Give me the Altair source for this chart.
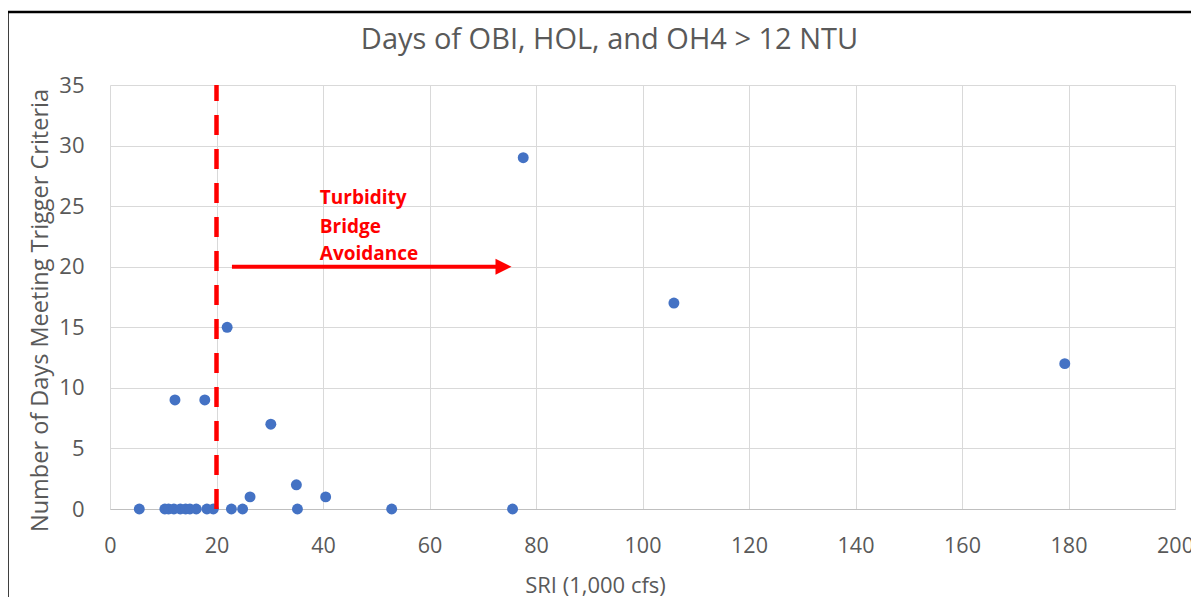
import altair as alt
import pandas as pd

# Scatter data
sri = [5.5, 10.3, 11.0, 12.0, 13.2, 14.2, 15.0, 16.2, 18.2, 19.4, 22.8, 24.9,
       26.3, 35.2, 35.0, 40.5, 52.9, 75.6, 12.2, 17.8, 22.0, 30.2, 77.6, 105.9, 179.3]
days = [0, 0, 0, 0, 0, 0, 0, 0, 0, 0, 0, 0,
        1, 0, 2, 1, 0, 0, 9, 9, 15, 7, 29, 17, 12]

# Annotation data
threshold_x = [20]
arrow_x = [22.9]
arrow_x2 = [72.5]
arrow_head_x = [73.9]
arrow_y = [20]
note_lines = ["Turbidity", "Bridge", "Avoidance"]
note_x = [39.4, 39.4, 39.4]
note_y = [25.16, 22.77, 20.56]

TITLE = "Days of OBI, HOL, and OH4 > 12 NTU"
X_TITLE = "SRI (1,000 cfs)"
Y_TITLE = "Number of Days Meeting Trigger Criteria"

FONT = "Open Sans"
GRAY = "#595959"
BLUE = "#4472c4"
RED = "#ff0000"

W, H = 1065, 424

df = pd.DataFrame({"sri": sri, "days": days})
thr = pd.DataFrame({"x": threshold_x, "y0": [0], "y1": [35]})
arr = pd.DataFrame({"x": arrow_x, "x2": arrow_x2, "y": arrow_y})
head = pd.DataFrame({"x": arrow_head_x, "y": arrow_y})
notes = pd.DataFrame({"t": note_lines, "x": note_x, "y": note_y})

xs = alt.Scale(domain=[0, 200], nice=False, zero=True)
ys = alt.Scale(domain=[0, 35], nice=False, zero=True)

common = dict(labelFont=FONT, labelColor=GRAY,
              titleFont=FONT, titleColor=GRAY,
              titleFontWeight="normal", grid=True, gridColor="#d9d9d9",
              ticks=False, tickSize=0, labelFlush=False, labelOverlap=False)

xaxis = alt.Axis(values=list(range(0, 201, 20)), title=X_TITLE,
                 domain=True, domainColor="#bfbfbf", labelPadding=26,
                 labelFontSize=21.5,
                 titleFontSize=22, titleX=485, titleY=76,
                 titleBaseline="middle", titleAlign="center", **common)
yaxis = alt.Axis(values=list(range(0, 36, 5)), title=Y_TITLE, domain=False,
                 labelPadding=26, labelFontSize=22, titleFontSize=23.5,
                 titleAngle=-90, titleX=-70, titleY=225,
                 titleBaseline="middle", titleAlign="center", **common)

points = alt.Chart(df).mark_circle(size=120, color=BLUE, opacity=1).encode(
    x=alt.X("sri:Q", scale=xs, axis=xaxis),
    y=alt.Y("days:Q", scale=ys, axis=yaxis),
)

rule = alt.Chart(thr).mark_rule(color=RED, strokeWidth=4.5, strokeDash=[20, 14],
                                strokeCap="butt").encode(
    x=alt.X("x:Q", scale=xs),
    y=alt.Y("y0:Q", scale=ys),
    y2="y1:Q",
)

arrow = alt.Chart(arr).mark_rule(color=RED, strokeWidth=4, strokeCap="butt").encode(
    x=alt.X("x:Q", scale=xs),
    x2="x2:Q",
    y=alt.Y("y:Q", scale=ys),
)

arrowhead = alt.Chart(head).mark_point(
    shape="M-1,-1L1,0L-1,1Z", size=256, filled=True, color=RED, opacity=1,
    strokeWidth=0,
).encode(
    x=alt.X("x:Q", scale=xs),
    y=alt.Y("y:Q", scale=ys),
)

text = alt.Chart(notes).mark_text(
    align="left", baseline="alphabetic", font=FONT, fontSize=19,
    fontWeight="bold", color=RED,
).encode(
    x=alt.X("x:Q", scale=xs),
    y=alt.Y("y:Q", scale=ys),
    text="t:N",
)

frame = alt.Chart(pd.DataFrame({"k": [0]})).mark_rect(
    fill=None, stroke="black", strokeWidth=2.5, clip=False,
).encode(
    x=alt.value(-102.5), x2=alt.value(1300),
    y=alt.value(-73), y2=alt.value(700),
)

chart = alt.layer(frame, points, rule, arrow, arrowhead, text).properties(
    width=W, height=H,
    title=alt.TitleParams(TITLE, font=FONT, fontSize=29, fontWeight="normal",
                          color=GRAY, anchor="middle", dx=-33, offset=29,
                          dy=102, baseline="bottom"),
    autosize=alt.AutoSizeParams(type="none"),
    padding={"left": 102, "top": 77, "right": 16, "bottom": 88},
    background="white",
).configure_view(stroke=None)

chart.save("out.html", embed_options={"renderer": "svg", "actions": False})
